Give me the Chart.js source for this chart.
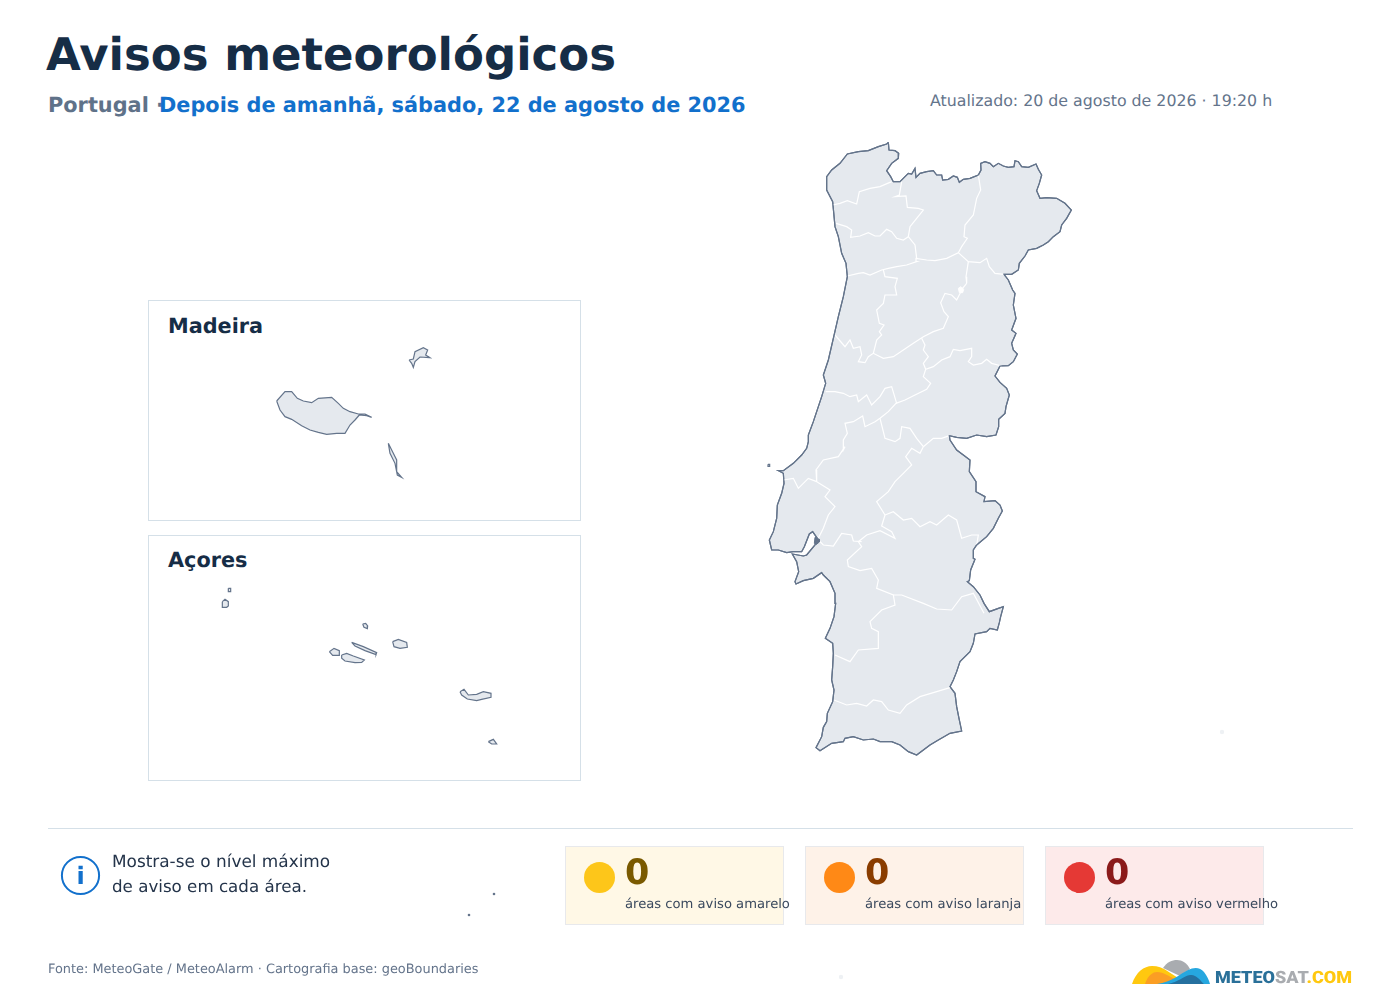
<!DOCTYPE html>
<html lang="pt">
<head>
<meta charset="utf-8">
<title>Avisos meteorológicos</title>
<script src="https://cdn.jsdelivr.net/npm/chart.js@4"></script>
<style>
html,body{margin:0;padding:0;background:#fff}
body{width:1400px;height:1000px;position:relative;overflow:hidden;font-family:"DejaVu Sans",sans-serif;text-rendering:geometricPrecision}
.t{position:absolute;white-space:nowrap;line-height:1}
.box{position:absolute;border:1px solid #d5e0e8;box-sizing:border-box;background:#fff}
.card{position:absolute;top:846px;width:219px;height:79px;box-sizing:border-box;border:1px solid #e8e9ec}
.dot{position:absolute;top:862px;width:31px;height:31px;border-radius:50%}
canvas{position:absolute}
.cw{position:absolute}
</style>
</head>
<body>
<div class="t" id="title" style="left:46px;top:32px;font-size:45px;font-weight:700;color:#162d46">Avisos meteorológicos</div>
<div class="t" style="left:48px;top:95px;font-size:20.85px;font-weight:700;color:#5f7289">Portugal ·</div>
<div class="t" style="left:159px;top:95px;font-size:20.85px;font-weight:700;color:#1270cc">Depois de amanhã, sábado, 22 de agosto de 2026</div>
<div class="t" style="left:930px;top:93px;font-size:15.8px;color:#64748b">Atualizado: 20 de agosto de 2026 · 19:20 h</div>

<div class="box" style="left:148px;top:300px;width:433px;height:221px"></div>
<div class="t" style="left:168px;top:316px;font-size:20.8px;font-weight:700;color:#162d46">Madeira</div>
<div class="box" style="left:148px;top:535px;width:433px;height:246px"></div>
<div class="t" style="left:168px;top:550px;font-size:20.8px;font-weight:700;color:#162d46">Açores</div>

<div class="cw" style="left:760px;top:130px;width:320px;height:640px"><canvas id="mapMainland"></canvas></div>
<div class="cw" style="left:260px;top:335px;width:180px;height:150px"><canvas id="mapMadeira"></canvas></div>
<div class="cw" style="left:210px;top:580px;width:300px;height:170px"><canvas id="mapAzores"></canvas></div>
<div class="cw" style="left:0;top:0;width:1400px;height:1000px"><canvas id="mapIslets"></canvas></div>

<div style="position:absolute;left:48px;top:828px;width:1305px;height:1px;background:#d5e0e8"></div>
<svg style="position:absolute;left:60px;top:855px" width="41" height="41" viewBox="0 0 41 41"><circle cx="20.5" cy="20.5" r="18.6" fill="none" stroke="#1270cc" stroke-width="2"/><text x="20.5" y="29" text-anchor="middle" font-family="DejaVu Sans" font-weight="700" font-size="24" fill="#1270cc">i</text></svg>
<div class="t" style="left:112px;top:853px;font-size:16.9px;color:#24344a">Mostra-se o nível máximo</div>
<div class="t" style="left:112px;top:878px;font-size:16.7px;color:#24344a">de aviso em cada área.</div>

<div class="card" style="left:565px;background:#fff8e6"></div>
<div class="dot" style="left:584px;background:#fdc61a"></div>
<div class="t" style="left:625px;top:856px;font-size:35px;font-weight:700;color:#7a5a00">0</div>
<div class="t" style="left:625px;top:898px;font-size:13.15px;color:#3b4a5e">áreas com aviso amarelo</div>

<div class="card" style="left:805px;background:#fef2e8"></div>
<div class="dot" style="left:824px;background:#ff8916"></div>
<div class="t" style="left:865px;top:856px;font-size:35px;font-weight:700;color:#8a3d00">0</div>
<div class="t" style="left:865px;top:898px;font-size:13.15px;color:#3b4a5e">áreas com aviso laranja</div>

<div class="card" style="left:1045px;background:#fdeaea"></div>
<div class="dot" style="left:1064px;background:#e53935"></div>
<div class="t" style="left:1105px;top:856px;font-size:35px;font-weight:700;color:#8b1a1a">0</div>
<div class="t" style="left:1105px;top:898px;font-size:13.15px;color:#3b4a5e">áreas com aviso vermelho</div>

<div class="t" style="left:48px;top:964px;font-size:12.9px;color:#64748b">Fonte: MeteoGate / MeteoAlarm · Cartografia base: geoBoundaries</div>

<svg style="position:absolute;left:1130px;top:958px" width="225" height="26" viewBox="0 0 225 26">
  <path d="M33 10 C37 4 42 2 47 2 C52 2 57 5 60 11 L50 18 Z" fill="#a9acb0"/>
  <path d="M2 26 C6 14 14 8 22 8 C34 8 40 16 52 22 L40 26 Z" fill="#ffc80f"/>
  <path d="M15 26 C18 17 23 14 27 14 C34 14 38 18 45 21 L38 26 Z" fill="#fb9e24"/>
  <path d="M27 26 C42 24 50 16 58 12 C64 9 70 9 74 14 C77 18 79 22 80 26 Z" fill="#26a7df"/>
  <path d="M38 26 C48 24 54 18 60 17 C66 16 70 22 74 26 Z" fill="#25709f"/>
  <text x="85" y="25" font-family="Roboto" font-weight="900" font-size="17" textLength="137" lengthAdjust="spacingAndGlyphs"><tspan fill="#2a7099">METEO</tspan><tspan fill="#a9acb0">SAT</tspan><tspan fill="#ffc80f">.COM</tspan></text>
</svg>

<script>
// Mainland coastline and border, in map-grid units
const mainlandOutline = [[385,37],[387,60],[405,62],[416,70],[415,85],[395,100],[380,122],[392,140],[400,155],[420,155],[435,140],[445,130],[455,132],[465,115],[468,142],[480,130],[500,125],[520,122],[530,135],[545,135],[548,150],[565,148],[580,138],[592,142],[598,157],[610,148],[630,145],[655,135],[663,120],[662,100],[675,95],[690,100],[700,110],[715,100],[730,108],[745,112],[762,110],[765,92],[775,95],[785,110],[805,112],[828,102],[835,118],[845,135],[838,160],[830,182],[840,205],[860,203],[890,205],[915,220],[934,240],[920,265],[905,285],[900,305],[880,320],[865,335],[850,345],[830,355],[805,360],[795,378],[778,400],[775,420],[755,433],[732,433],[745,450],[758,480],[765,490],[760,525],[768,565],[755,600],[768,610],[755,640],[760,660],[772,672],[760,695],[745,707],[720,708],[705,738],[720,757],[740,775],[748,795],[738,830],[735,850],[716,868],[716,890],[708,915],[680,920],[650,915],[620,925],[590,922],[568,917],[570,930],[590,960],[610,975],[630,990],[628,1025],[648,1055],[648,1085],[675,1100],[672,1115],[705,1112],[720,1125],[727,1143],[715,1165],[700,1195],[680,1220],[650,1245],[640,1260],[640,1285],[645,1288],[632,1320],[628,1352],[622,1355],[640,1370],[660,1395],[672,1420],[688,1445],[715,1435],[730,1430],[722,1460],[718,1478],[712,1500],[690,1495],[680,1505],[645,1512],[640,1540],[630,1565],[600,1595],[590,1625],[580,1650],[570,1670],[585,1690],[590,1730],[597,1765],[605,1803],[570,1810],[535,1830],[510,1845],[470,1875],[445,1865],[420,1845],[395,1835],[360,1835],[340,1827],[310,1830],[280,1820],[255,1825],[250,1835],[215,1840],[180,1862],[168,1853],[185,1820],[190,1792],[200,1775],[202,1750],[218,1715],[222,1680],[215,1650],[218,1610],[220,1570],[218,1540],[196,1525],[210,1495],[222,1460],[227,1420],[225,1390],[210,1355],[190,1335],[185,1328],[160,1345],[130,1352],[108,1362],[105,1355],[116,1325],[110,1295],[97,1272],[130,1278],[140,1275],[165,1245],[172,1225],[158,1205],[148,1212],[133,1250],[125,1265],[100,1265],[80,1268],[55,1260],[35,1260],[28,1230],[40,1205],[50,1165],[52,1125],[65,1090],[72,1060],[70,1030],[55,1022],[70,1022],[100,1000],[125,975],[140,955],[145,935],[145,915],[160,875],[185,800],[197,760],[190,735],[205,690],[220,625],[235,560],[250,500],[262,440],[258,400],[245,370],[235,320],[225,290],[218,215],[200,180],[200,140],[215,120],[240,100],[262,72],[295,65],[325,62],[355,50],[380,42]];

// District boundaries
const boundaryVianaBraga = [[218,225],[240,220],[262,212],[290,222],[298,185],[330,175],[360,170],[395,155]];
const boundaryBragaVilaReal = [[425,155],[418,195],[405,200],[438,198],[442,232],[475,235],[490,240],[470,265],[450,290],[445,320],[465,345],[470,385]];
const boundaryBragaPorto = [[228,280],[260,290],[275,300],[272,322],[300,318],[325,308],[345,318],[360,318],[380,298],[395,305],[410,325],[430,330],[445,320]];
const boundaryVilaRealBraganca = [[655,135],[662,180],[650,205],[640,255],[615,285],[612,320],[622,325],[605,350],[595,368]];
const boundaryDouro = [[262,438],[295,430],[310,428],[330,435],[365,420],[385,415],[410,410],[440,405],[470,395],[468,385],[500,390],[525,392],[560,385],[595,368],[625,395],[660,398],[680,385],[688,410],[705,430],[732,433]];
const boundaryAveiroViseu = [[370,420],[375,440],[412,445],[405,470],[410,495],[375,495],[370,520],[350,540],[358,580],[372,585],[358,605],[365,615],[350,630],[340,670]];
const boundaryViseuGuarda = [[625,395],[618,440],[620,460],[608,475],[590,510],[575,495],[555,490],[542,518],[552,545],[565,560],[550,595],[520,605],[490,620],[460,640],[430,660],[400,680],[370,685],[340,670],[325,680],[315,698],[295,695],[305,675],[300,650],[280,655],[270,630],[255,650],[225,615]];
const boundaryGuardaCastelo = [[485,625],[495,645],[490,660],[505,680],[490,700],[497,718],[520,710],[545,690],[570,680],[580,658],[600,662],[635,655],[635,680],[625,695],[640,705],[665,700],[680,688],[695,700],[725,708]];
const boundaryCoimbraLeiria = [[197,785],[225,785],[250,790],[270,800],[290,795],[295,815],[320,795],[335,825],[360,800],[375,775],[395,770],[410,820]];
const boundaryLeiriaSantarem = [[497,718],[490,740],[512,760],[500,778],[465,795],[435,810],[408,820],[385,845],[360,865],[345,875],[315,890],[308,858],[280,875],[255,880],[262,910],[250,930],[250,960],[255,950],[235,980],[190,990],[168,1020],[170,1055],[210,1080],[195,1100],[225,1130],[205,1155],[190,1195],[175,1225]];
const boundaryLisboa = [[70,1050],[100,1045],[115,1075],[145,1045],[170,1055]];
const boundaryCasteloSantarem = [[360,865],[375,925],[405,935],[420,925],[425,890],[450,895],[470,925],[490,950],[480,970],[455,955],[437,980],[455,1005],[430,1030],[405,1055],[385,1085],[350,1115],[375,1155],[365,1188],[395,1205],[405,1225],[360,1202],[320,1215],[295,1235],[305,1250],[262,1290],[265,1310],[300,1322],[335,1315],[355,1350],[350,1375],[400,1395],[405,1425],[365,1440],[330,1475],[335,1495],[355,1505],[355,1555],[295,1560],[270,1595],[225,1575]];
const boundaryCasteloEast = [[490,950],[520,925],[545,925],[568,917]];
const boundarySetubal = [[175,1230],[190,1245],[220,1248],[245,1210],[275,1215],[280,1233],[305,1235]];
const boundaryPortalegreEvora = [[375,1155],[400,1145],[430,1170],[455,1165],[480,1190],[510,1175],[530,1185],[565,1155],[590,1170],[605,1225],[635,1215],[655,1215],[650,1245]];
const boundaryEvoraBeja = [[400,1395],[425,1395],[490,1420],[530,1437],[575,1440],[605,1400],[640,1390],[672,1450]];
const boundaryAlgarve = [[222,1710],[260,1725],[290,1720],[320,1728],[340,1710],[365,1715],[385,1740],[420,1750],[440,1725],[480,1700],[530,1685],[570,1673]];
const mainlandHole = [[595,475],[603,470],[611,478],[608,488],[598,488]];
const tagusShoal = [[165,1222],[178,1228],[178,1236],[168,1244],[163,1240]];
const berlengas = [[24,1003],[29,1003],[29,1009],[24,1009]];

// Madeira archipelago
const madeiraIsland = [[50,198],[75,170],[95,170],[112,190],[130,198],[155,203],[175,190],[215,187],[235,205],[250,220],[270,230],[295,237],[315,237],[335,247],[320,242],[298,240],[285,255],[270,270],[255,295],[230,295],[200,298],[175,292],[150,285],[125,272],[95,253],[75,245],[60,225]];
const portoSanto = [[447,75],[460,72],[465,50],[490,38],[503,45],[497,60],[510,68],[480,66],[465,80],[460,97],[455,85]];
const desertas = [[385,325],[395,345],[410,375],[410,410],[425,427],[412,420],[405,385],[390,355]];

// Azores archipelago
const corvo = [[55,25],[62,25],[62,35],[55,35]];
const flores = [[37,65],[45,58],[55,65],[55,78],[50,82],[37,82]];
const graciosa = [[458,132],[467,130],[473,138],[472,146],[462,142]];
const saoJorge = [[425,187],[460,200],[500,218],[498,224],[465,212],[435,198]];
const terceira = [[548,185],[565,178],[590,187],[592,202],[570,205],[552,200]];
const faial = [[358,215],[372,205],[388,212],[388,226],[368,226]];
const pico = [[395,225],[410,220],[430,228],[463,240],[455,247],[435,248],[405,243],[395,235]];
const saoMiguel = [[750,335],[762,328],[775,345],[800,343],[820,335],[843,340],[843,352],[815,358],[800,362],[772,357],[755,345]];
const santaMaria = [[835,485],[850,478],[860,492],[845,492]];

// Small islets scattered on the page
const darkIslets = [[494,894],[469,915]];
const paleIslets = [[1222,732],[841,977]];

const LAND = '#e5e9ee', COAST = '#64748b', INNER = '#ffffff';
const pts = a => a.map(p => ({x: p[0], y: p[1]}));
const closed = a => pts(a.concat([a[0]]));
const land = (a, w) => ({data: closed(a), showLine: true, fill: 'shape', backgroundColor: LAND, borderColor: COAST, borderWidth: w || 1.2, pointRadius: 0, tension: 0, order: 3});
const coastOnly = a => ({data: closed(a), showLine: true, fill: false, borderColor: COAST, borderWidth: 1.2, pointRadius: 0, tension: 0, order: 1});
const inner = a => ({data: pts(a), showLine: true, fill: false, borderColor: INNER, borderWidth: 1.2, pointRadius: 0, tension: 0, order: 2});

function mapChart(id, datasets, xMax, yMax) {
  return new Chart(document.getElementById(id), {
    type: 'scatter',
    data: {datasets},
    options: {
      responsive: true, maintainAspectRatio: false, animation: false,
      events: [],
      layout: {padding: 0, autoPadding: false},
      plugins: {legend: {display: false}, tooltip: {enabled: false}},
      scales: {
        x: {type: 'linear', min: 0, max: xMax, display: false},
        y: {type: 'linear', min: 0, max: yMax, reverse: true, display: false}
      }
    }
  });
}

const boundaries = [boundaryVianaBraga, boundaryBragaVilaReal, boundaryBragaPorto, boundaryVilaRealBraganca, boundaryDouro, boundaryAveiroViseu, boundaryViseuGuarda, boundaryGuardaCastelo, boundaryCoimbraLeiria, boundaryLeiriaSantarem, boundaryLisboa, boundaryCasteloSantarem, boundaryCasteloEast, boundarySetubal, boundaryPortalegreEvora, boundaryEvoraBeja, boundaryAlgarve];

mapChart('mapMainland', [
  land(mainlandOutline),
  ...boundaries.map(inner),
  coastOnly(mainlandOutline),
  {data: closed(mainlandHole), showLine: true, fill: 'shape', backgroundColor: INNER, borderColor: INNER, borderWidth: 1, pointRadius: 0, order: 0},
  {data: closed(tagusShoal), showLine: true, fill: 'shape', backgroundColor: COAST, borderColor: COAST, borderWidth: 1, pointRadius: 0, order: 0},
  land(berlengas)
], 960, 1920);

mapChart('mapMadeira', [madeiraIsland, portoSanto, desertas].map(a => land(a)), 540, 450);
mapChart('mapAzores', [corvo, flores, graciosa, saoJorge, terceira, faial, pico, saoMiguel, santaMaria].map(a => land(a)), 900, 510);
mapChart('mapIslets', [
  {data: pts(darkIslets), pointRadius: 1.3, pointBackgroundColor: COAST, pointBorderWidth: 0},
  {data: pts(paleIslets), pointRadius: 2.2, pointBackgroundColor: '#eef1f4', pointBorderWidth: 0}
], 1400, 1000);
</script>
</body>
</html>
